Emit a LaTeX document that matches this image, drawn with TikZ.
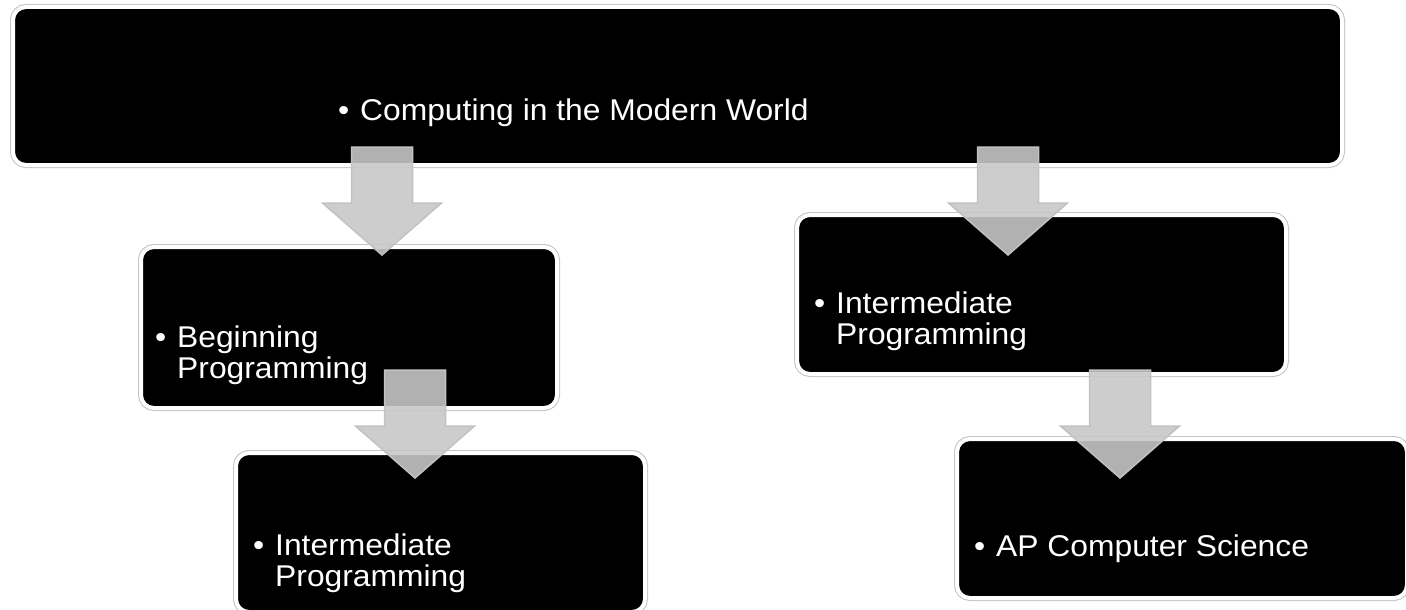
\documentclass[tikz,border=0pt]{standalone}
\usepackage{fontspec}
\setmainfont[FakeStretch=1.06]{Liberation Sans}
\definecolor{arrowgray}{HTML}{C7C7C7}
\definecolor{arrowedge}{HTML}{C2C2C2}
\definecolor{rimgray}{HTML}{C4C4C4}
\tikzset{
	stage/.style={fill=black, draw=white, line width=4pt, rounded corners=13pt, anchor=north west, inner sep=0pt,
		preaction={draw=rimgray, line width=6pt}},
	itemtext/.style={text=white, anchor=base west, inner sep=0pt, font=\fontsize{30}{31}\selectfont},
	flow/.style={fill=arrowgray, fill opacity=0.89, draw=arrowedge, line width=1.5pt, line join=miter}
}
\newcommand{\bulletitem}[1]{\makebox[22pt][l]{\textbullet}\begin{tabular}[t]{@{}l@{}}#1\end{tabular}}
\begin{document}
\begin{tikzpicture}[x=1pt, y=-1pt]
	\useasboundingbox (0,0) rectangle (1406,610);
	\fill[white] (0,0) rectangle (1406,610);
	% course boxes
	\node[stage, minimum width=1329pt, minimum height=158pt] (world) at (11,5) {};
	\node[stage, minimum width=416pt, minimum height=161pt] (begin) at (139,245) {};
	\node[stage, minimum width=409pt, minimum height=159pt] (interleft) at (234,451) {};
	\node[stage, minimum width=489pt, minimum height=159pt] (interright) at (795,213) {};
	\node[stage, minimum width=450pt, minimum height=159pt] (apcs) at (955,437) {};
	% texts
	\node[itemtext] (worldtext) at (338,120) {\bulletitem{Computing in the Modern World}};
	\node[itemtext] (begintext) at (155,347) {\bulletitem{Beginning\\Programming}};
	\node[itemtext] (interlefttext) at (253,555) {\bulletitem{Intermediate\\Programming}};
	\node[itemtext] (interrighttext) at (814,313) {\bulletitem{Intermediate\\Programming}};
	\node[itemtext] (apcstext) at (974,556) {\bulletitem{AP Computer Science}};
	% block arrows
	\foreach \ax/\ay in {382/147, 1008/147, 415/370, 1120/370}{
		\draw[flow] (\ax-30.5,\ay) -- (\ax+30.5,\ay) -- (\ax+30.5,\ay+56) -- (\ax+59.5,\ay+56)
			-- (\ax,\ay+108) -- (\ax-59.5,\ay+56) -- (\ax-30.5,\ay+56) -- cycle;
	}
\end{tikzpicture}
\end{document}
